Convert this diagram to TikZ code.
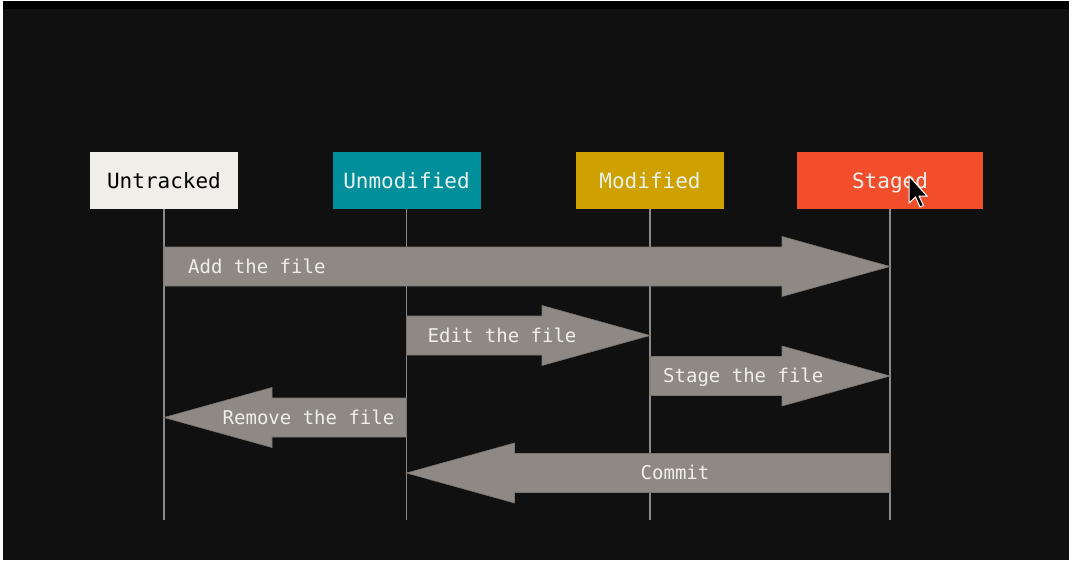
\documentclass[tikz,border=0pt]{standalone}
\usepackage{fontspec}
\setmonofont{DejaVu Sans Mono}
\usetikzlibrary{calc}

\definecolor{bg}{RGB}{16,16,16}
\definecolor{untrackedfill}{RGB}{240,238,233}
\definecolor{unmodifiedfill}{RGB}{0,143,155}
\definecolor{modifiedfill}{RGB}{206,160,0}
\definecolor{stagedfill}{RGB}{242,78,44}
\definecolor{statetext}{RGB}{232,240,236}
\definecolor{lifegray}{RGB}{138,138,138}
\definecolor{flowgray}{RGB}{142,137,132}
\definecolor{flowedge}{RGB}{120,116,112}
\definecolor{labeltext}{RGB}{240,238,234}

% right-pointing fat arrow from lifeline #1 to lifeline #2 on row #3
\newcommand\flowright[3]{%
  \filldraw[flow] ($(#1|-#3)+(0,-19.5)$) -- ($(#2|-#3)+(-108,-19.5)$)
    -- ($(#2|-#3)+(-108,-30)$) -- (#2|-#3) -- ($(#2|-#3)+(-108,30)$)
    -- ($(#2|-#3)+(-108,19.5)$) -- ($(#1|-#3)+(0,19.5)$) -- cycle;}
% left-pointing fat arrow from lifeline #1 to lifeline #2 on row #3
\newcommand\flowleft[3]{%
  \filldraw[flow] ($(#1|-#3)+(0,-19.5)$) -- ($(#2|-#3)+(108,-19.5)$)
    -- ($(#2|-#3)+(108,-30)$) -- (#2|-#3) -- ($(#2|-#3)+(108,30)$)
    -- ($(#2|-#3)+(108,19.5)$) -- ($(#1|-#3)+(0,19.5)$) -- cycle;}

\begin{document}
\begin{tikzpicture}[x=1pt,y=-1pt,
  state/.style={minimum width=148pt, minimum height=57pt, inner sep=0pt,
    font=\ttfamily\fontsize{21}{21}\selectfont, text=statetext,
    text height=15.3pt, text depth=0pt},
  lifeline/.style={draw=lifegray, line width=1.5pt},
  flow/.style={fill=flowgray, draw=flowedge, line width=0.6pt},
  flowlabel/.style={font=\ttfamily\fontsize{19}{19}\selectfont, text=labeltext,
    inner sep=0pt, text height=13.9pt, text depth=0pt}]

\useasboundingbox (0,0) rectangle (1074,560);
% backdrop
\fill[bg] (0,0) rectangle (1074,560);
\fill[black] (0,0) rectangle (1074,9);
\fill[white] (0,0) rectangle (3,560);
\fill[white] (1069,0) rectangle (1074,560);
\fill[white] (0,0) rectangle (1074,1);

% states
\node[state, fill=untrackedfill, text=black] (untracked) at (164,180.5) {Untracked};
\node[state, fill=unmodifiedfill] (unmodified) at (406.5,180.5) {Unmodified};
\node[state, fill=modifiedfill] (modified) at (650,180.5) {Modified};
\node[state, fill=stagedfill, minimum width=186pt] (staged) at (890,180.5) {Staged};

% rows
\coordinate (bottom) at (0,520);
\coordinate (r1) at (0,266.5);
\coordinate (r2) at (0,335.5);
\coordinate (r3) at (0,376);
\coordinate (r4) at (0,417.5);
\coordinate (r5) at (0,473);

% lifelines
\foreach \s in {untracked,unmodified,modified,staged}
  \draw[lifeline] (\s.south) -- (\s.south|-bottom);

% transitions
\flowright{untracked.south}{staged.south}{r1}
\flowright{unmodified.south}{modified.south}{r2}
\flowright{modified.south}{staged.south}{r3}
\flowleft{unmodified.south}{untracked.south}{r4}
\flowleft{staged.south}{unmodified.south}{r5}

\node[flowlabel, anchor=west] (ladd) at ($(untracked.south|-r1)+(24,0)$) {Add the file};
\node[flowlabel, anchor=west] (ledit) at ($(unmodified.south|-r2)+(21,0)$) {Edit the file};
\node[flowlabel, anchor=west] (lstage) at ($(modified.south|-r3)+(13,0)$) {Stage the file};
\node[flowlabel, anchor=east] (lremove) at ($(unmodified.south|-r4)+(-12,0)$) {Remove the file};
\node[flowlabel] (lcommit) at ($(modified.south|-r5)+(25,0)$) {Commit};

% mouse pointer
\filldraw[fill=black, draw=white, line width=1pt, line join=miter]
  (909,176) -- ++(0,27) -- ++(6.5,-6) -- ++(4.5,10) -- ++(3.5,-1.5)
  -- ++(-4.5,-9.5) -- ++(8,0) -- cycle;
\end{tikzpicture}
\end{document}
